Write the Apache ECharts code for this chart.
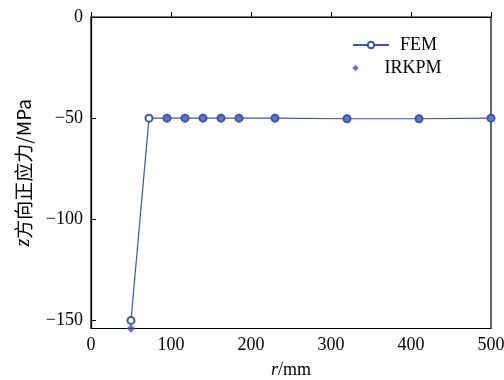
<!DOCTYPE html>
<html>
<head>
<meta charset="utf-8">
<script src="https://cdn.jsdelivr.net/npm/echarts@6/dist/echarts.min.js"></script>
<style>html,body{margin:0;padding:0;background:#fff}#c{width:504px;height:380px}</style>
</head>
<body>
<div id="c"></div>
<script>
var rFEM = [50, 72.5, 95, 117.5, 140, 162.5, 185, 230, 320, 410, 500];
var sFEM = [-150, -50, -50, -50, -50, -50, -50, -50, -50.3, -50.3, -50];
var rIRKPM = [50, 95, 117.5, 140, 162.5, 185, 230, 320, 410, 500];
var sIRKPM = [-154, -50, -50, -50, -50, -50, -50, -50.3, -50.3, -50];
var xTicks = [0, 100, 200, 300, 400, 500];
var yTicks = [0, -50, -100, -150];

var blue = '#3b55b0';
var serif = 'Liberation Serif';
var star = 'path://M0,-10 L4.5,-4.5 L10,0 L4.5,4.5 L0,10 L-4.5,4.5 L-10,0 L-4.5,-4.5 Z';

function pair(a, b) { return a.map(function (v, i) { return [v, b[i]]; }); }
function fmt(v) { return v < 0 ? '\u2212' + Math.abs(v) : String(v); }

var chart = echarts.init(document.getElementById('c'));
chart.setOption({
  animation: false,
  backgroundColor: '#fff',
  grid: { left: 91, right: 13, top: 17, bottom: 51.5, outerBoundsMode: 'none', containLabel: false, show: true, borderColor: '#000', borderWidth: 1.2, backgroundColor: 'transparent' },
  legend: [{
    data: ['FEM'], orient: 'vertical', left: 347, top: 31, itemWidth: 36, itemHeight: 8,
    textStyle: { fontFamily: serif, fontSize: 18, color: '#000', padding: [0, 0, 0, 6] }
  }, {
    data: ['IRKPM'], orient: 'vertical', left: 347, top: 54, itemWidth: 36, itemHeight: 7,
    textStyle: { fontFamily: serif, fontSize: 18, color: '#000', padding: [0, 0, 0, 6] }
  }],
  xAxis: {
    type: 'value', min: 0, max: 500, interval: 100,
    name: '{i|r}/mm', nameLocation: 'middle', nameGap: 33,
    nameTextStyle: { fontFamily: serif, fontSize: 18, color: '#000', rich: { i: { fontFamily: serif, fontStyle: 'italic', fontSize: 18, color: '#000' } } },
    axisLine: { lineStyle: { color: '#000', width: 1.2 } },
    axisTick: { inside: true, length: 5, lineStyle: { color: '#000' }, customValues: xTicks },
    axisLabel: { customValues: xTicks, formatter: fmt, fontFamily: serif, fontSize: 18, color: '#000', margin: 8 },
    splitLine: { show: false }
  },
  yAxis: {
    type: 'value', min: -154, max: 0,
    name: '{i|z}方向正应力/MPa', nameLocation: 'middle', nameGap: 57, nameRotate: 90,
    nameTextStyle: { fontFamily: 'Noto Sans CJK SC', fontSize: 19, color: '#000', rich: { i: { fontFamily: serif, fontStyle: 'italic', fontSize: 20, color: '#000' } } },
    axisLine: { lineStyle: { color: '#000', width: 1.2 } },
    axisTick: { inside: true, length: 5, lineStyle: { color: '#000' }, customValues: yTicks },
    axisLabel: { customValues: yTicks, formatter: fmt, fontFamily: serif, fontSize: 18, color: '#000', margin: 8 },
    splitLine: { show: false }
  },
  series: [{
    name: 'FEM', type: 'line', data: pair(rFEM, sFEM),
    symbol: 'emptyCircle', symbolSize: 7, showAllSymbol: true,
    lineStyle: { color: blue, width: 1.2 },
    itemStyle: { color: blue, borderColor: blue, borderWidth: 1.5 },
    z: 2
  }, {
    name: 'IRKPM', type: 'scatter', data: pair(rIRKPM, sIRKPM),
    symbol: star, symbolSize: 9,
    itemStyle: { color: blue },
    z: 3
  }]
});
</script>
</body>
</html>
